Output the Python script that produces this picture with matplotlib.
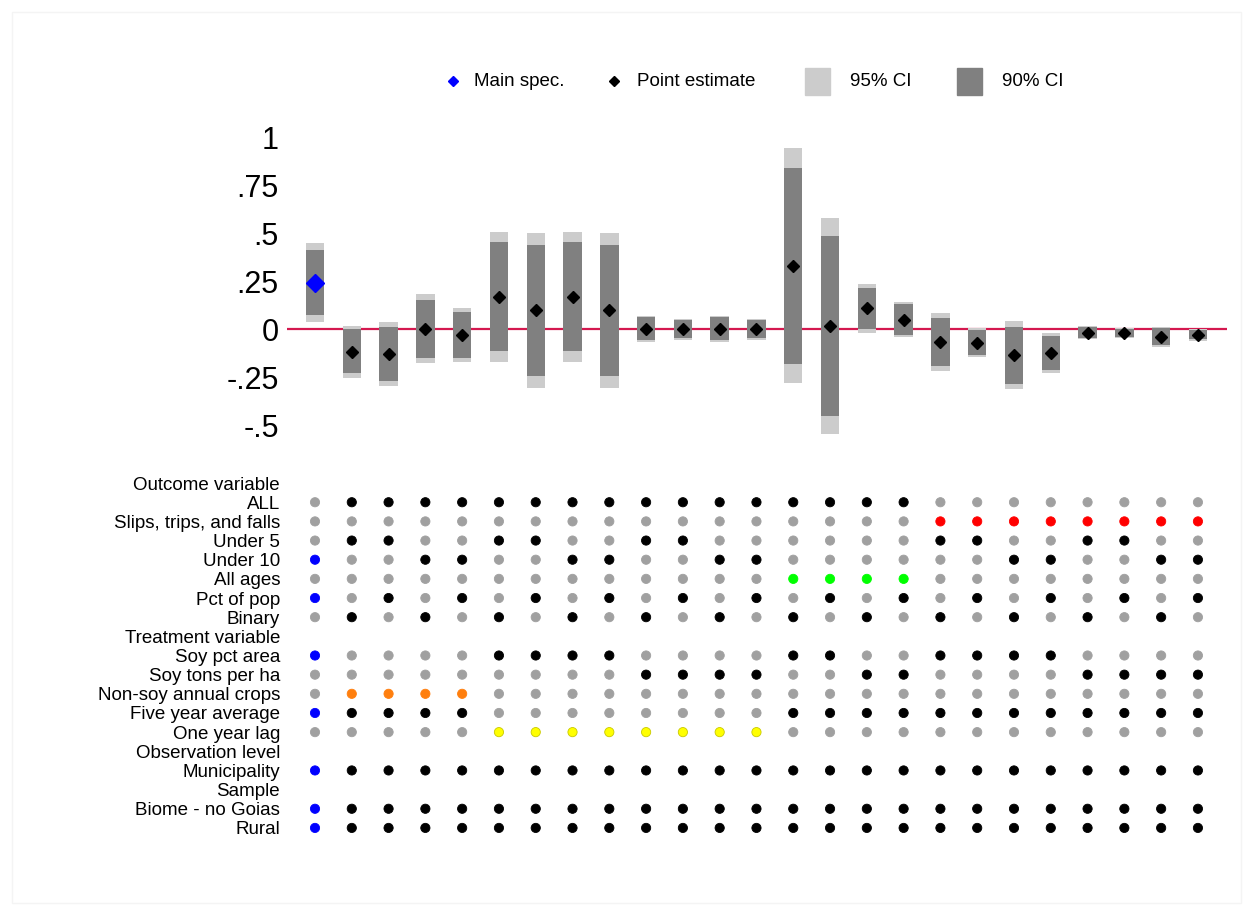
import matplotlib
matplotlib.use("Agg")
import matplotlib.pyplot as plt
from matplotlib.patches import Rectangle
import numpy as np

plt.rcParams['font.family'] = ['Liberation Sans', 'DejaVu Sans']

# ---- estimates for each specification (column 1 is the main specification) ----
point_est = [0.241, -0.118, -0.132, -0.002, -0.033, 0.167, 0.097, 0.167, 0.097, 0.002,
             -0.002, 0.002, -0.002, 0.330, 0.016, 0.108, 0.047, -0.066, -0.071, -0.137,
             -0.127, -0.019, -0.019, -0.040, -0.031]
ci95_hi = [0.446, 0.017, 0.035, 0.182, 0.108, 0.507, 0.498, 0.507, 0.498, 0.069,
           0.052, 0.069, 0.052, 0.941, 0.580, 0.236, 0.142, 0.085, 0.004, 0.042,
           -0.019, 0.016, 0.007, 0.012, -0.002]
ci95_lo = [0.038, -0.253, -0.295, -0.179, -0.173, -0.173, -0.306, -0.173, -0.306, -0.066,
           -0.056, -0.066, -0.056, -0.280, -0.547, -0.019, -0.043, -0.217, -0.147, -0.314,
           -0.231, -0.054, -0.048, -0.092, -0.061]
ci90_hi = [0.411, -0.002, 0.009, 0.151, 0.087, 0.452, 0.438, 0.452, 0.438, 0.061,
           0.047, 0.061, 0.047, 0.840, 0.486, 0.215, 0.129, 0.059, -0.005, 0.012,
           -0.036, 0.010, 0.002, 0.007, -0.005]
ci90_lo = [0.073, -0.231, -0.271, -0.153, -0.153, -0.115, -0.243, -0.115, -0.243, -0.057,
           -0.048, -0.057, -0.048, -0.182, -0.453, 0.000, -0.031, -0.193, -0.135, -0.286,
           -0.214, -0.048, -0.040, -0.083, -0.054]
main_spec = 0

ytick_vals = [1, 0.75, 0.5, 0.25, 0, -0.25, -0.5]
ytick_labels = ["1", ".75", ".5", ".25", "0", "-.25", "-.5"]

# ---- specification choices (1 = used) ----
outcome_all   = [0,1,1,1,1,1,1,1,1,1,1,1,1,1,1,1,1,0,0,0,0,0,0,0,0]
outcome_slips = [0,0,0,0,0,0,0,0,0,0,0,0,0,0,0,0,0,1,1,1,1,1,1,1,1]
age_under5    = [0,1,1,0,0,1,1,0,0,1,1,0,0,0,0,0,0,1,1,0,0,1,1,0,0]
age_under10   = [1,0,0,1,1,0,0,1,1,0,0,1,1,0,0,0,0,0,0,1,1,0,0,1,1]
age_all       = [0,0,0,0,0,0,0,0,0,0,0,0,0,1,1,1,1,0,0,0,0,0,0,0,0]
scale_pct     = [1,0,1,0,1,0,1,0,1,0,1,0,1,0,1,0,1,0,1,0,1,0,1,0,1]
scale_binary  = [0,1,0,1,0,1,0,1,0,1,0,1,0,1,0,1,0,1,0,1,0,1,0,1,0]
treat_soy_pct = [1,0,0,0,0,1,1,1,1,0,0,0,0,1,1,0,0,1,1,1,1,0,0,0,0]
treat_soy_ton = [0,0,0,0,0,0,0,0,0,1,1,1,1,0,0,1,1,0,0,0,0,1,1,1,1]
treat_nonsoy  = [0,1,1,1,1,0,0,0,0,0,0,0,0,0,0,0,0,0,0,0,0,0,0,0,0]
timing_5yr    = [1,1,1,1,1,0,0,0,0,0,0,0,0,1,1,1,1,1,1,1,1,1,1,1,1]
timing_lag1   = [0,0,0,0,0,1,1,1,1,1,1,1,1,0,0,0,0,0,0,0,0,0,0,0,0]
obs_muni      = [1]*25
sample_biome  = [1]*25
sample_rural  = [1]*25

# rows of the indicator panel: (label, choices, colour when used); None = group heading
panel_rows = [
    ("Outcome variable", None, None),
    ("ALL", outcome_all, "black"),
    ("Slips, trips, and falls", outcome_slips, "#ff0000"),
    ("Under 5", age_under5, "black"),
    ("Under 10", age_under10, "black"),
    ("All ages", age_all, "#00ff00"),
    ("Pct of pop", scale_pct, "black"),
    ("Binary", scale_binary, "black"),
    ("Treatment variable", None, None),
    ("Soy pct area", treat_soy_pct, "black"),
    ("Soy tons per ha", treat_soy_ton, "black"),
    ("Non-soy annual crops", treat_nonsoy, "#ff7f0e"),
    ("Five year average", timing_5yr, "black"),
    ("One year lag", timing_lag1, "#ffff00"),
    ("Observation level", None, None),
    ("Municipality", obs_muni, "black"),
    ("Sample", None, None),
    ("Biome - no Goias", sample_biome, "black"),
    ("Rural", sample_rural, "black"),
]

W, H = 1249, 910
fig = plt.figure(figsize=(W / 100, H / 100), dpi=100)
fig.patch.set_facecolor("white")


def axes_px(x0, y0, x1, y1):
    return fig.add_axes([x0 / W, 1 - y1 / H, (x1 - x0) / W, (y1 - y0) / H])


n = len(point_est)
x = np.arange(1, n + 1)
xlim = (0.239, 25.79)

# ---- coefficient panel ----
ax = axes_px(287, 120, 1227, 450)
ax.set_xlim(*xlim)
ax.set_ylim(-0.630, 1.089)
lo95 = np.array(ci95_lo); hi95 = np.array(ci95_hi)
lo90 = np.array(ci90_lo); hi90 = np.array(ci90_hi)
ax.axhline(0, color="#d4184f", lw=1.6, zorder=1)
ax.bar(x, hi95 - lo95, bottom=lo95, width=0.5, color="#cccccc", zorder=2)
ax.bar(x, hi90 - lo90, bottom=lo90, width=0.5, color="#808080", zorder=3)
others = [i for i in range(n) if i != main_spec]
ax.plot(x[others], np.array(point_est)[others], ls="none", marker="D",
        ms=6.1, color="black", zorder=4)
ax.plot(x[main_spec], point_est[main_spec], ls="none", marker="D",
        ms=9.2, color="#0000ff", zorder=5)
ax.set_yticks(ytick_vals)
ax.set_yticklabels(ytick_labels, fontsize=22)
ax.tick_params(axis="y", length=0, pad=6)
ax.set_xticks([])
for s in ax.spines.values():
    s.set_visible(False)
ax.patch.set_alpha(0)

# ---- indicator panel ----
ax2 = axes_px(287, 473.5, 1227, 837.5)
ax2.set_xlim(*xlim)
ax2.set_ylim(len(panel_rows) - 0.5, -0.5)
for r, (label, choices, colour) in enumerate(panel_rows):
    if choices is None:
        continue
    cols = []
    for j, used in enumerate(choices):
        if used and j == main_spec:
            cols.append("#0000ff")
        elif used:
            cols.append(colour)
        else:
            cols.append("#a0a0a0")
    edges = ["#c8c800" if c == "#ffff00" else c for c in cols]
    ax2.scatter(x, [r] * n, s=44, c=cols, edgecolors=edges, linewidths=0.6, zorder=3)
ax2.set_yticks(range(len(panel_rows)))
ax2.set_yticklabels([r[0] for r in panel_rows], fontsize=13.5)
ax2.tick_params(axis="y", length=0, pad=5)
ax2.set_xticks([])
for s in ax2.spines.values():
    s.set_visible(False)
ax2.patch.set_alpha(0)

# ---- legend and outer frame drawn in pixel space ----
lg = axes_px(0, 0, W, H)
lg.set_xlim(0, W)
lg.set_ylim(H, 0)
lg.axis("off")
lg.set_zorder(-1)
lg.add_patch(Rectangle((12, 12), 1229, 891, fill=False, edgecolor="#f4f4f4", lw=1))
ly = 81
lg.plot(453, ly, marker="D", ms=5.5, color="#0000ff", ls="none")
lg.text(474, ly, "Main spec.", fontsize=13.5, va="center", ha="left")
lg.plot(614, ly, marker="D", ms=5.5, color="black", ls="none")
lg.text(637, ly, "Point estimate", fontsize=13.5, va="center", ha="left")
lg.add_patch(Rectangle((805, 68), 25, 27, color="#cccccc"))
lg.text(850, ly, "95% CI", fontsize=13.5, va="center", ha="left")
lg.add_patch(Rectangle((957, 68), 25, 27, color="#808080"))
lg.text(1002, ly, "90% CI", fontsize=13.5, va="center", ha="left")

fig.savefig("out.png", dpi=100, facecolor="white")
